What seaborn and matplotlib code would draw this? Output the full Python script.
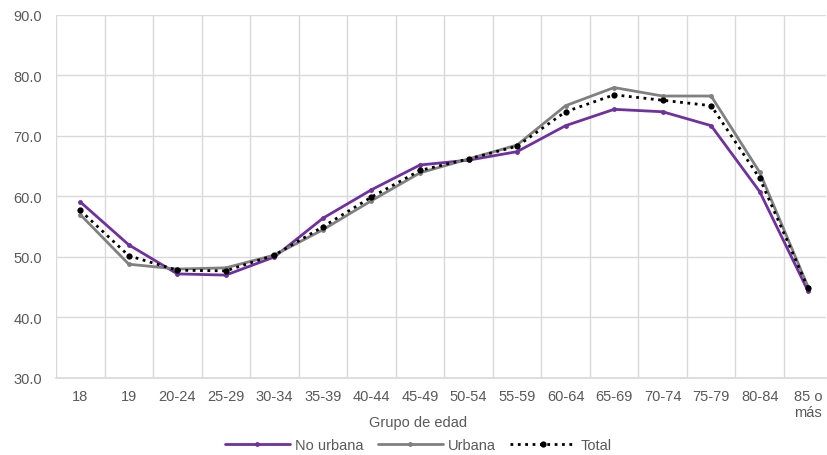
import matplotlib
matplotlib.use("Agg")
import matplotlib.pyplot as plt
import seaborn as sns
import pandas as pd
import numpy as np

categorias = ["18", "19", "20-24", "25-29", "30-34", "35-39", "40-44", "45-49",
              "50-54", "55-59", "60-64", "65-69", "70-74", "75-79", "80-84", "85 o\nmás"]
no_urbana = [59.1, 52.0, 47.2, 47.0, 50.0, 56.4, 61.1, 65.2, 66.0, 67.4, 71.7, 74.4, 74.0, 71.7, 60.8, 44.3]
urbana = [57.0, 48.8, 48.0, 48.2, 50.3, 54.5, 59.3, 63.9, 66.2, 68.5, 75.0, 78.0, 76.6, 76.6, 64.0, 45.0]
total = [57.7, 50.2, 47.8, 47.7, 50.3, 55.0, 59.9, 64.3, 66.2, 68.3, 74.0, 76.8, 75.9, 75.0, 63.0, 44.8]
y_ticks = [30, 40, 50, 60, 70, 80, 90]

sns.set_theme(style="white")
plt.rcParams['font.family'] = ['Liberation Sans', 'DejaVu Sans']

fig = plt.figure(figsize=(8.27, 4.56), dpi=100)
ax = fig.add_axes([0.0677, 0.169, 0.9313, 0.796])

x = np.arange(len(categorias))
series = [("No urbana", no_urbana, "#7030A0", "-", 2.0, 3.5),
          ("Urbana", urbana, "#808080", "-", 2.0, 3.5),
          ("Total", total, "#000000", ":", 2.0, 4.5)]
for name, vals, col, ls, lw, ms in series:
    df = pd.DataFrame({"x": x, "y": vals})
    sns.lineplot(data=df, x="x", y="y", ax=ax, color=col, linestyle=ls, linewidth=lw,
                 marker="o", markersize=ms, markeredgewidth=0, label=name)

ax.set_ylim(30, 90)
ax.set_yticks(y_ticks)
ax.set_yticklabels([f"{v:.1f}" for v in y_ticks])
ax.set_xlim(-0.5, 15.37)
ax.set_xticks(np.arange(-0.5, 15.5, 1.0), minor=False)
ax.set_xticklabels([])
ax.set_xticks(x, minor=True)
ax.set_xticklabels(categorias, minor=True)
ax.tick_params(axis="x", which="both", length=0, pad=8)
ax.tick_params(axis="x", which="minor", labelsize=10.5, colors="#595959")
ax.tick_params(axis="y", length=0, labelsize=10.5, colors="#595959", pad=10)
ax.grid(True, axis="both", which="major", color="#D9D9D9", linewidth=1)
for s in ["top", "right", "left"]:
    ax.spines[s].set_visible(False)
ax.spines["bottom"].set_color("#D9D9D9")
ax.set_xlabel("Grupo de edad", fontsize=10.5, color="#595959")
ax.xaxis.set_label_coords(0.47, -0.121)
ax.xaxis.label.set_verticalalignment("center")
ax.set_ylabel("")
ax.legend(loc="center", bbox_to_anchor=(0.47, -0.185), ncol=3, frameon=False,
          fontsize=10.5, labelcolor="#595959", handlelength=4.5, columnspacing=1.0,
          handletextpad=0.3, borderaxespad=0)
fig.savefig("out.png", dpi=100)
